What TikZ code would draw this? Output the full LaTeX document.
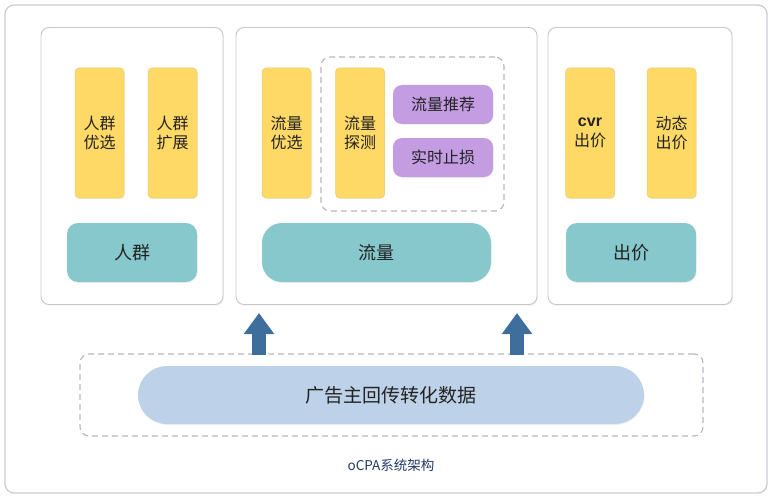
\documentclass[tikz,border=0pt]{standalone}
\usepackage{fontspec}
\setmainfont{Noto Sans CJK SC}
\usetikzlibrary{arrows.meta,shadows}
\definecolor{framegray}{HTML}{C9CDD3}
\definecolor{panelgray}{HTML}{C4C8CD}
\definecolor{yel}{HTML}{FFD966}
\definecolor{yelborder}{HTML}{EBCB70}
\definecolor{teal}{HTML}{86C8CC}
\definecolor{purp}{HTML}{C49CE2}
\definecolor{pillblue}{HTML}{BDD1E8}
\definecolor{arrowblue}{HTML}{3D6E9C}
\definecolor{dashgray}{HTML}{B4B8BE}
\definecolor{captionblue}{HTML}{1F3A66}
\definecolor{txt}{HTML}{222222}
\tikzset{
  panel/.style={draw=panelgray, line width=0.9pt, fill=white, rounded corners=8pt,
    drop shadow={opacity=0.12, shadow xshift=0.8pt, shadow yshift=-1.2pt}},
  ybox/.style={fill=yel, draw=yelborder, line width=0.5pt, rounded corners=4pt, inner sep=0pt,
    minimum width=49pt, minimum height=130pt, align=center, font=\fontsize{16}{19.5}\selectfont, text=txt,
    drop shadow={opacity=0.12, shadow xshift=0.6pt, shadow yshift=-0.8pt}},
  tbox/.style={fill=teal, rounded corners=11pt, inner sep=0pt, minimum height=59pt,
    font=\fontsize{18}{20}\selectfont, text=txt,
    drop shadow={opacity=0.12, shadow xshift=0.6pt, shadow yshift=-1pt}},
  pbox/.style={fill=purp, rounded corners=9pt, inner sep=0pt, minimum width=100pt, minimum height=39pt,
    font=\fontsize{16}{18}\selectfont, text=txt,
    drop shadow={opacity=0.12, shadow xshift=0.6pt, shadow yshift=-0.8pt}},
  dashbox/.style={draw=dashgray, line width=1.1pt, dash pattern=on 6pt off 4pt, rounded corners=9pt},
  uparrow/.style={draw=arrowblue, line width=14pt, -{Triangle[width=29pt,length=21pt]}},
}
\begin{document}
\begin{tikzpicture}[x=1pt,y=-1pt]
\useasboundingbox (0,0) rectangle (773,500);
% outer frame
\draw[framegray, line width=1.3pt, rounded corners=9pt] (5,5) rectangle (767,493);
% panels
\node[panel, minimum width=182pt, minimum height=277pt, inner sep=0pt] (pL) at (132,166) {};
\node[panel, minimum width=301pt, minimum height=277pt, inner sep=0pt] (pM) at (386.5,166) {};
\node[panel, minimum width=184pt, minimum height=277pt, inner sep=0pt] (pR) at (640,166) {};
% left panel
\node[ybox] (ly1) at (99.5,133) {人群\\优选};
\node[ybox] (ly2) at (172.5,133) {人群\\扩展};
\node[tbox, minimum width=130pt] (lt) at (132,252.5) {人群};
% middle panel
\node[dashbox, minimum width=183pt, minimum height=154pt, inner sep=0pt] (dm) at (412.5,134) {};
\node[ybox] (my1) at (286.5,133) {流量\\优选};
\node[ybox] (my2) at (360,133) {流量\\探测};
\node[pbox] (mp1) at (443,104.5) {流量推荐};
\node[pbox] (mp2) at (443,157.5) {实时止损};
\node[tbox, minimum width=229pt, rounded corners=20pt] (mt) at (376.5,252.5) {流量};
% right panel
\node[ybox] (ry1) at (590,133) {{\fontspec{Liberation Sans}\bfseries cvr}\\出价};
\node[ybox] (ry2) at (671.5,133) {动态\\出价};
\node[tbox, minimum width=130pt] (rt) at (631,252.5) {出价};
% bottom
\node[dashbox, minimum width=623pt, minimum height=82pt, inner sep=0pt] (db) at (391.5,395) {};
\node[fill=pillblue, rounded corners=29pt, minimum width=506pt, minimum height=58pt, inner sep=0pt,
  font=\fontsize{19}{21}\selectfont, text=txt,
  drop shadow={opacity=0.12, shadow xshift=0.6pt, shadow yshift=-1pt}] (data) at (391,395) {广告主回传转化数据};
% arrows
\coordinate (a1s) at (259,355);
\coordinate (a1e) at (259,313);
\coordinate (a2s) at (517,355);
\coordinate (a2e) at (517,313);
\draw[uparrow] (a1s) -- (a1e);
\draw[uparrow] (a2s) -- (a2e);
% caption
\node[text=captionblue, font=\fontsize{13.5}{15}\selectfont] (cap) at (391,465) {oCPA系统架构};
\end{tikzpicture}
\end{document}
